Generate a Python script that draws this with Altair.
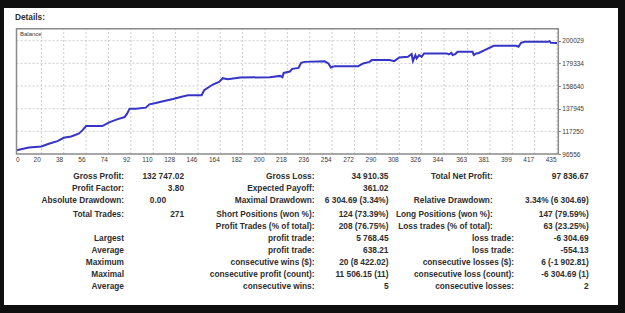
import altair as alt
import pandas as pd

# ---- balance curve: trade number -> account balance ----
trade_no = [0, 10, 20, 26, 33, 38, 44, 50, 53, 56, 69, 75, 81, 87, 89, 91, 96, 104,
            107, 112, 118, 126, 132, 138, 149, 151, 158, 163, 166, 170, 180, 204,
            212, 214, 215, 220, 222, 227, 229, 232, 248, 251, 253, 256, 275, 279,
            284, 286, 300, 304, 308, 315, 318, 319, 321, 322, 324, 326, 328, 346,
            348, 350, 351, 353, 355, 367, 368, 370, 372, 378, 384, 402, 404, 406,
            409, 428, 429, 430, 435]
balance = [100000, 102500, 103400, 105900, 108300, 111400, 112600, 115100, 118100,
           122050, 122050, 125700, 128200, 130300, 133400, 138000, 138000, 138900,
           141900, 143100, 144700, 146800, 148600, 150200, 150200, 154800, 160000,
           162400, 165800, 164900, 166400, 166700, 167900, 166700, 170600, 171900,
           174300, 175200, 179800, 180700, 181200, 179300, 175600, 176800, 176800,
           179300, 180700, 182300, 182300, 181400, 184800, 185300, 187850, 181545,
           186900, 183850, 186900, 185300, 188440, 188440, 187500, 188900, 186900,
           187800, 189900, 189900, 186900, 188400, 188800, 192100, 195400, 195400,
           194500, 198150, 199070, 199070, 199600, 198150, 197837]

# ---- axis ticks ----
x_ticks = [0, 20, 38, 56, 74, 92, 110, 128, 146, 164, 182, 200, 218, 236, 254,
           272, 290, 308, 326, 344, 363, 381, 399, 417, 435]
y_ticks = [96556, 117250, 137945, 158640, 179334, 200029]

# ---- report table ----
labels_a = ["Gross Profit:", "Profit Factor:", "Absolute Drawdown:", "Total Trades:", "",
            "Largest", "Average", "Maximum", "Maximal", "Average"]
values_b = ["132 747.02", "3.80", "0.00", "271", "", "", "", "", "", ""]
labels_c = ["Gross Loss:", "Expected Payoff:", "Maximal Drawdown:", "Short Positions (won %):",
            "Profit Trades (% of total):", "profit trade:", "profit trade:",
            "consecutive wins ($):", "consecutive profit (count):", "consecutive wins:"]
values_d = ["34 910.35", "361.02", "6 304.69 (3.34%)", "124 (73.39%)", "208 (76.75%)",
            "5 768.45", "638.21", "20 (8 422.02)", "11 506.15 (11)", "5"]
labels_e = ["Total Net Profit:", "", "Relative Drawdown:", "Long Positions (won %):",
            "Loss trades (% of total):", "loss trade:", "loss trade:",
            "consecutive losses ($):", "consecutive loss (count):", "consecutive losses:"]
values_f = ["97 836.67", "", "3.34% (6 304.69)", "147 (79.59%)", "63 (23.25%)",
            "-6 304.69", "-554.13", "6 (-1 902.81)", "-6 304.69 (1)", "2"]

# ---- layout (pixels inside the white panel) ----
PANEL_W, PANEL_H = 614, 297
X_MAX = 436
Y_MIN, Y_MAX = 96556, 211000
PLOT_LEFT, PLOT_RIGHT = 12.5, 554.3
PLOT_TOP, PLOT_BOTTOM = 20.7, 146

row_y = [168.6, 181.1, 193.4, 207.3, 219.2, 231, 242.5, 254.7, 266.5, 278.5]
col_a_x = [120] * 10
col_b_x = [180, 180, 162, 180, 180, 180, 180, 180, 180, 180]
col_c_x = [310.5] * 10
col_d_x = [384.5] * 10
col_e_x = [488.7] * 5 + [510] * 5
col_f_x = [584.7] * 10

FONT = "Liberation Sans"
TEXT_COLOR = "#2e2e2e"

x_scale = alt.Scale(domain=[0, X_MAX], range=[PLOT_LEFT, PLOT_RIGHT], nice=False, zero=False)
y_scale = alt.Scale(domain=[Y_MIN, Y_MAX], range=[PLOT_BOTTOM, PLOT_TOP], nice=False, zero=False)

bal = pd.DataFrame({"trade": trade_no, "balance": balance})

vgrid_df = pd.DataFrame({"t": x_ticks[1:], "y0": Y_MIN, "y1": Y_MAX})
hgrid_df = pd.DataFrame({"v": y_ticks[1:], "x0": 0, "x1": X_MAX})
frame_df = pd.DataFrame({"x0": [0], "x1": [X_MAX], "y0": [Y_MIN], "y1": [Y_MAX]})

grid_style = dict(color="#cdcdcd", strokeDash=[2, 2], strokeWidth=1)

vgrid = alt.Chart(vgrid_df).mark_rule(**grid_style).encode(
    x=alt.X("t:Q", scale=x_scale, axis=None),
    y=alt.Y("y0:Q", scale=y_scale, axis=None),
    y2="y1:Q",
)
hgrid = alt.Chart(hgrid_df).mark_rule(**grid_style).encode(
    y=alt.Y("v:Q", scale=y_scale, axis=None),
    x=alt.X("x0:Q", scale=x_scale, axis=None),
    x2="x1:Q",
)
frame = alt.Chart(frame_df).mark_rect(fillOpacity=0, stroke="#8a8a8a", strokeWidth=1.5).encode(
    x=alt.X("x0:Q", scale=x_scale, axis=None),
    x2="x1:Q",
    y=alt.Y("y0:Q", scale=y_scale, axis=None),
    y2="y1:Q",
)

x_axis = alt.Axis(
    values=x_ticks, orient="bottom", offset=PLOT_BOTTOM - PANEL_H,
    grid=False, domain=False, ticks=False, title=None, format="d",
    labelFont=FONT, labelFontSize=6.5, labelColor="#3a3a3a", labelPadding=2,
    labelAlign={"condition": {"test": "datum.value === 0", "value": "left"}, "value": "right"},
    labelOffset=-1, labelFlush=False, labelOverlap=False,
)
y_axis = alt.Axis(
    values=y_ticks, orient="right", offset=PLOT_RIGHT - PANEL_W,
    grid=False, domain=False, tickSize=2, tickColor="#777777", title=None, format="d",
    labelFont=FONT, labelFontSize=6.5, labelColor="#3a3a3a", labelPadding=1.5,
    labelFlush=False, labelOverlap=False,
)

line = alt.Chart(bal).mark_line(color="#3434c6", strokeWidth=2).encode(
    x=alt.X("trade:Q", scale=x_scale, axis=x_axis),
    y=alt.Y("balance:Q", scale=y_scale, axis=y_axis),
)

# table cells
cells = []
for i in range(10):
    for txt, xs in ((labels_a, col_a_x), (values_b, col_b_x), (labels_c, col_c_x),
                    (values_d, col_d_x), (labels_e, col_e_x), (values_f, col_f_x)):
        if txt[i]:
            cells.append({"txt": txt[i], "px": xs[i], "py": row_y[i]})
cells_df = pd.DataFrame(cells)

table = alt.Chart(cells_df).mark_text(
    align="right", baseline="middle", font=FONT, fontSize=8.3, fontWeight="bold", color=TEXT_COLOR
).encode(
    x=alt.X("px:Q", scale=None, axis=None),
    y=alt.Y("py:Q", scale=None, axis=None),
    text="txt:N",
)

heading = alt.Chart(pd.DataFrame({"txt": ["Details:"]})).mark_text(
    align="left", baseline="middle", font=FONT, fontSize=8.3, fontWeight="bold", color=TEXT_COLOR
).encode(x=alt.value(11), y=alt.value(9.5), text="txt:N")

series_label = alt.Chart(pd.DataFrame({"txt": ["Balance"]})).mark_text(
    align="left", baseline="middle", font=FONT, fontSize=6, color="#3a3a3a"
).encode(x=alt.value(16), y=alt.value(26.3), text="txt:N")

chart = alt.layer(
    vgrid, hgrid, line, frame, table, heading, series_label
).resolve_scale(
    x="independent", y="independent"
).properties(
    width=PANEL_W, height=PANEL_H,
    padding={"left": 4, "top": 8, "right": 7, "bottom": 8},
    autosize=alt.AutoSizeParams(type="none"),
    background="#0f0f0f",
).configure_view(
    fill="white", strokeWidth=0
)

chart.save("out.html", embed_options={"renderer": "svg", "actions": False})
